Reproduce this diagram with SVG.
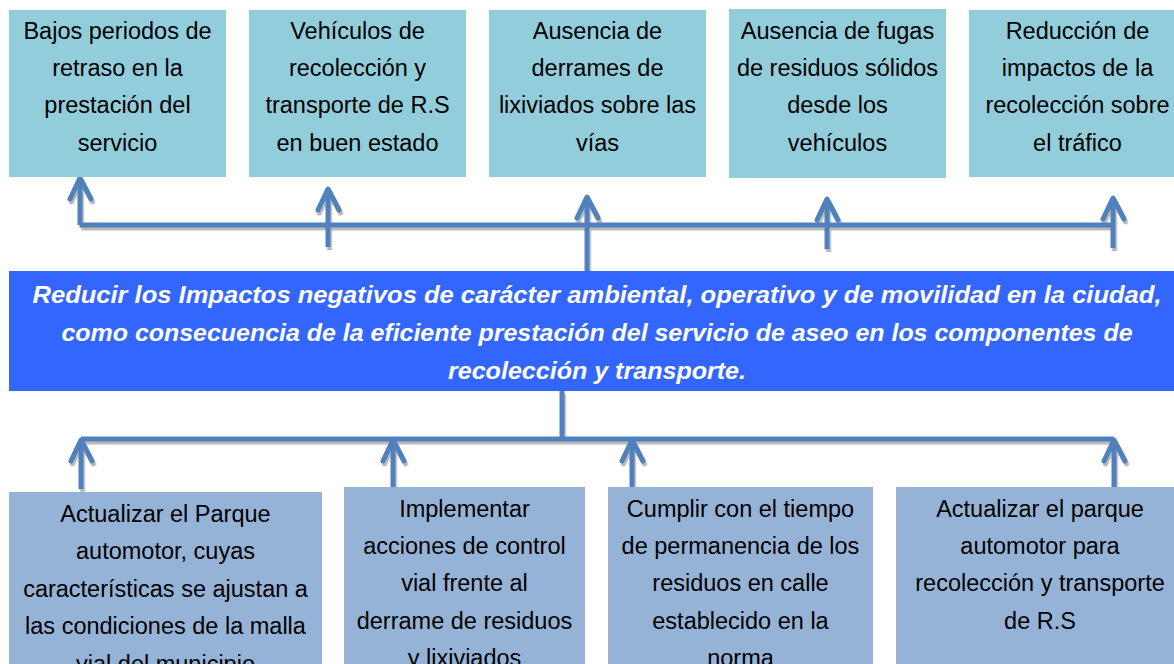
<svg xmlns="http://www.w3.org/2000/svg" width="1174" height="664" viewBox="0 0 1174 664">
<style>
.top{fill:#92CDDC}
.bot{fill:#95B3D7}
.main{fill:#3366FF}
.t{font-family:"Liberation Sans",Arial,sans-serif;font-size:23.5px;fill:#000;text-anchor:middle}
.m{font-family:"Liberation Sans",Arial,sans-serif;font-size:24px;font-weight:bold;font-style:italic;fill:#fff;text-anchor:middle}
.c{fill:none;stroke:#4F81BD;stroke-width:5;stroke-linejoin:round}
.h{stroke-linecap:round}
</style>
<defs>
<filter id="sh" x="-5%" y="-20%" width="110%" height="150%">
<feDropShadow dx="1.5" dy="3" stdDeviation="0.6" flood-color="#808080" flood-opacity="0.55"/>
</filter>
</defs>
<rect width="1174" height="664" fill="#fff"/>

<g id="connectors" filter="url(#sh)">
<path class="c" d="M80 225H1113M80 225V180M328 247V191M587 271V199M827 249V201M1113 248V200"/>
<path class="c h" d="M70 199L80 178L91 199M318 210L328 189L339 210M577 218L587 197L598 218M817 220L827 199L838 220M1103 219L1113 198L1124 219"/>
<path class="c" d="M562 391V439M81 439H1114M81 489V442M393 487V442M632 487V442M1114 487V442"/>
<path class="c h" d="M71 461L81 440L92 461M383 461L393 440L404 461M622 461L632 440L643 461M1104 461L1114 440L1125 461"/>
</g>

<g id="n1"><rect class="top" x="9" y="10" width="217" height="167"/>
<text class="t" x="117.5" y="39">Bajos periodos de</text>
<text class="t" x="117.5" y="76">retraso en la</text>
<text class="t" x="117.5" y="113">prestación del</text>
<text class="t" x="117.5" y="151">servicio</text></g>

<g id="n2"><rect class="top" x="249" y="10" width="217" height="167"/>
<text class="t" x="357.5" y="39">Vehículos de</text>
<text class="t" x="357.5" y="76">recolección y</text>
<text class="t" x="357.5" y="113">transporte de R.S</text>
<text class="t" x="357.5" y="151">en buen estado</text></g>

<g id="n3"><rect class="top" x="489" y="10" width="217" height="167"/>
<text class="t" x="597.5" y="39">Ausencia de</text>
<text class="t" x="597.5" y="76">derrames de</text>
<text class="t" x="597.5" y="113">lixiviados sobre las</text>
<text class="t" x="597.5" y="151">vías</text></g>

<g id="n4"><rect class="top" x="729" y="9" width="217" height="169"/>
<text class="t" x="837.5" y="39">Ausencia de fugas</text>
<text class="t" x="837.5" y="76">de residuos sólidos</text>
<text class="t" x="837.5" y="113">desde los</text>
<text class="t" x="837.5" y="151">vehículos</text></g>

<g id="n5"><rect class="top" x="969" y="10" width="217" height="167"/>
<text class="t" x="1077.5" y="39">Reducción de</text>
<text class="t" x="1077.5" y="76">impactos de la</text>
<text class="t" x="1077.5" y="113">recolección sobre</text>
<text class="t" x="1077.5" y="151">el tráfico</text></g>

<g id="center"><rect class="main" x="9" y="271" width="1176" height="120"/>
<text class="m" x="597" y="303" textLength="1129" lengthAdjust="spacingAndGlyphs">Reducir los Impactos negativos de carácter ambiental, operativo y de movilidad en la ciudad,</text>
<text class="m" x="597" y="341" textLength="1071" lengthAdjust="spacingAndGlyphs">como consecuencia de la eficiente prestación del servicio de aseo en los componentes de</text>
<text class="m" x="597" y="379" textLength="298" lengthAdjust="spacingAndGlyphs">recolección y transporte.</text></g>

<g id="b1"><rect class="bot" x="9" y="492" width="313" height="180"/>
<text class="t" x="165.5" y="522">Actualizar el Parque</text>
<text class="t" x="165.5" y="559">automotor, cuyas</text>
<text class="t" x="165.5" y="597">características se ajustan a</text>
<text class="t" x="165.5" y="634">las condiciones de la malla</text>
<text class="t" x="165.5" y="672">vial del municipio</text></g>

<g id="b2"><rect class="bot" x="344" y="487" width="241" height="185"/>
<text class="t" x="464.5" y="517">Implementar</text>
<text class="t" x="464.5" y="554">acciones de control</text>
<text class="t" x="464.5" y="591">vial frente al</text>
<text class="t" x="464.5" y="629">derrame de residuos</text>
<text class="t" x="464.5" y="666">y lixiviados</text></g>

<g id="b3"><rect class="bot" x="608" y="487" width="265" height="185"/>
<text class="t" x="740.5" y="517">Cumplir con el tiempo</text>
<text class="t" x="740.5" y="554">de permanencia de los</text>
<text class="t" x="740.5" y="591">residuos en calle</text>
<text class="t" x="740.5" y="629">establecido en la</text>
<text class="t" x="740.5" y="666">norma</text></g>

<g id="b4"><rect class="bot" x="896" y="487" width="288" height="185"/>
<text class="t" x="1040" y="517">Actualizar el parque</text>
<text class="t" x="1040" y="554">automotor para</text>
<text class="t" x="1040" y="591">recolección y transporte</text>
<text class="t" x="1040" y="629">de R.S</text></g>
</svg>
